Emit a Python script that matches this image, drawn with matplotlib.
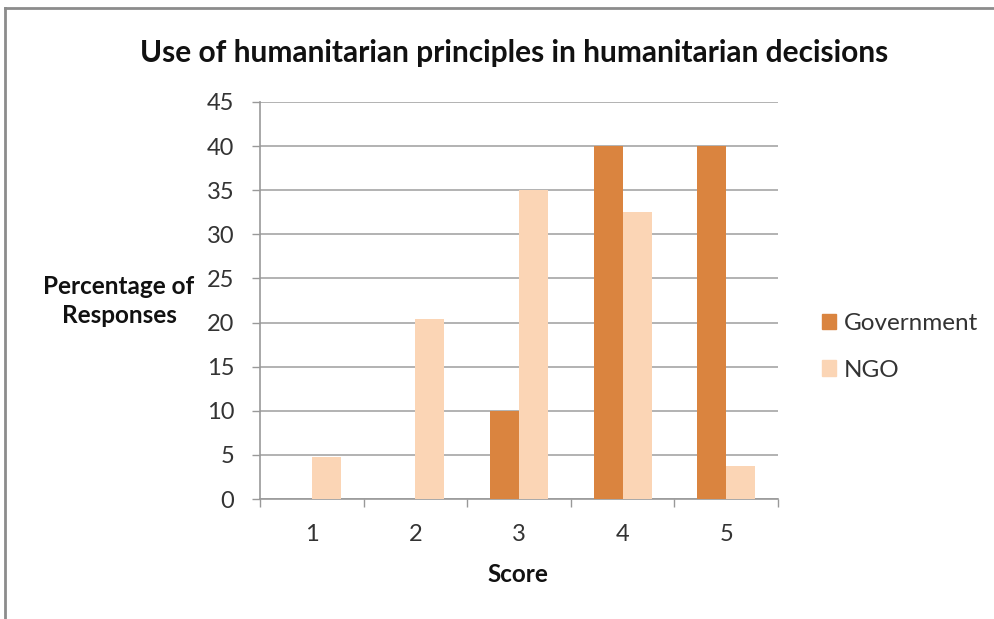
import matplotlib
matplotlib.use("Agg")
import matplotlib.pyplot as plt
from matplotlib.lines import Line2D
from matplotlib.patches import Rectangle
import numpy as np

categories = ["1", "2", "3", "4", "5"]
government = [0, 0, 10, 40, 40]
ngo = [4.8, 20.4, 35, 32.5, 3.7]
yticks = [0, 5, 10, 15, 20, 25, 30, 35, 40, 45]

plt.rcParams['font.family'] = ['Lato', 'DejaVu Sans']

fig = plt.figure(figsize=(9.95, 6.19), dpi=100)
ax = fig.add_axes([260/995, 1-499/619, (778-260)/995, (499-102)/619])

x = np.arange(len(categories))
w = 0.28
gov_c = "#DA843F"
ngo_c = "#FBD5B5"
ax.bar(x - w/2, government, w, color=gov_c, label="Government", zorder=3)
ax.bar(x + w/2, ngo, w, color=ngo_c, label="NGO", zorder=3)

ax.set_xlim(-0.5, len(categories) - 0.5)
ax.set_ylim(0, 45)
ax.set_yticks(yticks)
ax.set_yticklabels([str(v) for v in yticks], fontsize=17, color="#333333")
ax.set_xticks(x)
ax.set_xticklabels(categories, fontsize=17, color="#333333")
ax.tick_params(axis='x', length=0, pad=18)
ax.tick_params(axis='y', length=6, color="#999999", pad=12.5, width=1)
# category boundary ticks
ax.set_xticks(np.arange(-0.5, len(categories)), minor=True)
ax.tick_params(axis='x', which='minor', length=5.5, color="#999999", width=1)

ax.grid(axis='y', color="#A6A6A6", linewidth=1.2, zorder=0)
for s in ["top", "right"]:
    ax.spines[s].set_visible(False)
for s in ["left", "bottom"]:
    ax.spines[s].set_color("#999999")
    ax.spines[s].set_linewidth(1.2)

fig.text(514/995, 1-53/619, "Use of humanitarian principles in humanitarian decisions",
         ha='center', va='center', fontsize=21.5, fontweight='bold', color="#111111")
fig.text(119/995, 1-301/619, "Percentage of\nResponses", ha='center', va='center',
         fontsize=17.5, fontweight='bold', color="#111111", linespacing=1.35)
fig.text(518/995, 1-575/619, "Score", ha='center', va='center',
         fontsize=17.5, fontweight='bold', color="#111111")

handles = [Rectangle((0, 0), 1, 1, color=gov_c), Rectangle((0, 0), 1, 1, color=ngo_c)]
leg = fig.legend(handles, ["Government", "NGO"], loc='center left',
                 bbox_to_anchor=(800/995, 1-347/619), frameon=False, fontsize=17.5,
                 handlelength=0.6, handleheight=0.6, handletextpad=0.3, labelspacing=1.05,
                 labelcolor="#333333")

# outer frame lines
fig.add_artist(Line2D([5/995, 1], [1-8/619, 1-8/619], color="#8C8C8C", linewidth=2))
fig.add_artist(Line2D([5/995, 5/995], [0, 1-8/619], color="#8C8C8C", linewidth=2))

fig.savefig("out.png", dpi=100)
